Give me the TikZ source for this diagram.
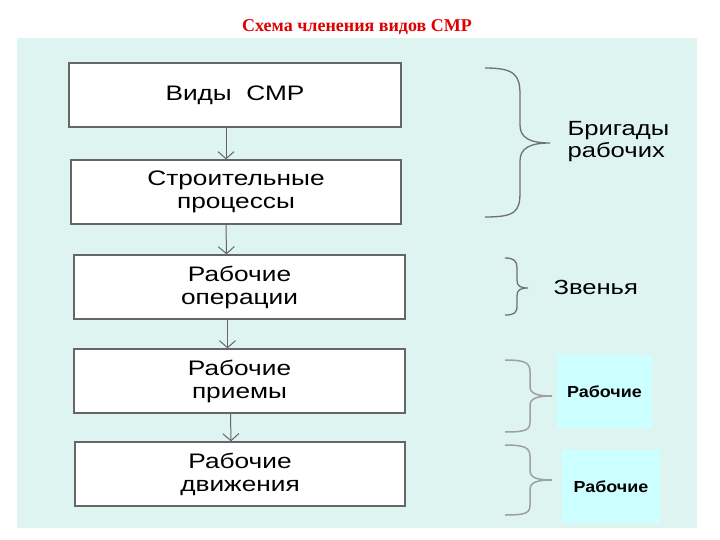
\documentclass[tikz,border=0pt]{standalone}
\usepackage{fontspec}
\setmainfont{Liberation Sans}
\newfontfamily\boxfont[FakeStretch=1.25]{Liberation Sans}
\newfontfamily\labelfont[FakeStretch=1.12]{Liberation Sans}
\newfontfamily\titlefont{Liberation Serif}
\usetikzlibrary{arrows.meta}
\definecolor{panel}{HTML}{DDF4F1}
\definecolor{cyanbox}{HTML}{CCFFFF}
\definecolor{titlered}{HTML}{E00000}
\definecolor{edge}{HTML}{666666}
\definecolor{brdark}{HTML}{707070}
\definecolor{brlight}{HTML}{A0A0A0}
\tikzset{
  stepbox/.style={draw=edge, line width=1.3pt, fill=white, minimum height=64pt, inner sep=0pt, align=center, font=\boxfont\fontsize{21}{23}\selectfont},
  flow/.style={draw=edge, line width=1pt, -{Straight Barb[length=7pt,width=16pt]}},
  bracedark/.style={draw=brdark, line width=1.3pt},
  bracelight/.style={draw=brlight, line width=1.5pt},
  sidetext/.style={anchor=west, align=left, font=\boxfont\fontsize{20.5}{22}\selectfont},
  cyanlabel/.style={fill=cyanbox, inner sep=0pt, font=\labelfont\bfseries\fontsize{16}{19}\selectfont}
}
\begin{document}
\begin{tikzpicture}[x=1pt,y=-1pt]
\useasboundingbox (0,0) rectangle (720,540);
\fill[white] (0,0) rectangle (720,540);
\fill[panel] (17,38) rectangle (697,528);
\node[text=titlered, font=\titlefont\bfseries\fontsize{18}{20}\selectfont] (title) at (357,27) {Схема членения видов СМР};

\node[stepbox, minimum width=332pt] (b1) at (235,95) {Виды \ СМР};
\node[stepbox, minimum width=330pt] (b2) at (236,192) {Строительные\\процессы};
\node[stepbox, minimum width=331pt] (b3) at (239.5,287) {Рабочие\\операции};
\node[stepbox, minimum width=331pt] (b4) at (239.5,381) {Рабочие\\приемы};
\node[stepbox, minimum width=330pt] (b5) at (240,474) {Рабочие\\движения};

\draw[flow] ([xshift=-9pt]b1.south) -- ([xshift=-10pt]b2.north);
\draw[flow] ([xshift=-10pt]b2.south) -- ([xshift=-13pt]b3.north);
\draw[flow] ([xshift=-12pt]b3.south) -- ([xshift=-12pt]b4.north);
\draw[flow] ([xshift=-9pt]b4.south) -- ([xshift=-9pt]b5.north);

% braces
\draw[bracedark] (485,68) .. controls (515,68) and (520,75) .. (520,95) -- (520,125) .. controls (520,138) and (530,143) .. (550,143) .. controls (530,143) and (520,148) .. (520,161) -- (520,192) .. controls (520,212) and (515,217) .. (485,217);
\draw[bracedark] (505,258) .. controls (514,258) and (517,261) .. (517,268) -- (517,280) .. controls (517,286) and (520,288) .. (528,288) .. controls (520,288) and (517,290) .. (517,296) -- (517,306) .. controls (517,313) and (514,315) .. (505,315);
\draw[bracelight] (505,360) .. controls (526,360) and (530,363) .. (530,372) -- (530,386) .. controls (530,393) and (535,396) .. (552,396) .. controls (535,396) and (530,399) .. (530,406) -- (530,422) .. controls (530,430) and (526,432) .. (505,432);
\draw[bracelight] (505,445) .. controls (526,445) and (530,448) .. (530,457) -- (530,470) .. controls (530,477) and (535,480) .. (552,480) .. controls (535,480) and (530,483) .. (530,490) -- (530,505) .. controls (530,513) and (526,515) .. (505,515);

\node[sidetext] (t1) at (564,142) {Бригады\\рабочих};
\node[sidetext] (t2) at (550,287) {Звенья};

\node[cyanlabel, minimum width=95pt, minimum height=73pt] (c1) at (604.5,391.5) {Рабочие};
\node[cyanlabel, minimum width=98pt, minimum height=73pt] (c2) at (611,486.5) {Рабочие};
\end{tikzpicture}
\end{document}
